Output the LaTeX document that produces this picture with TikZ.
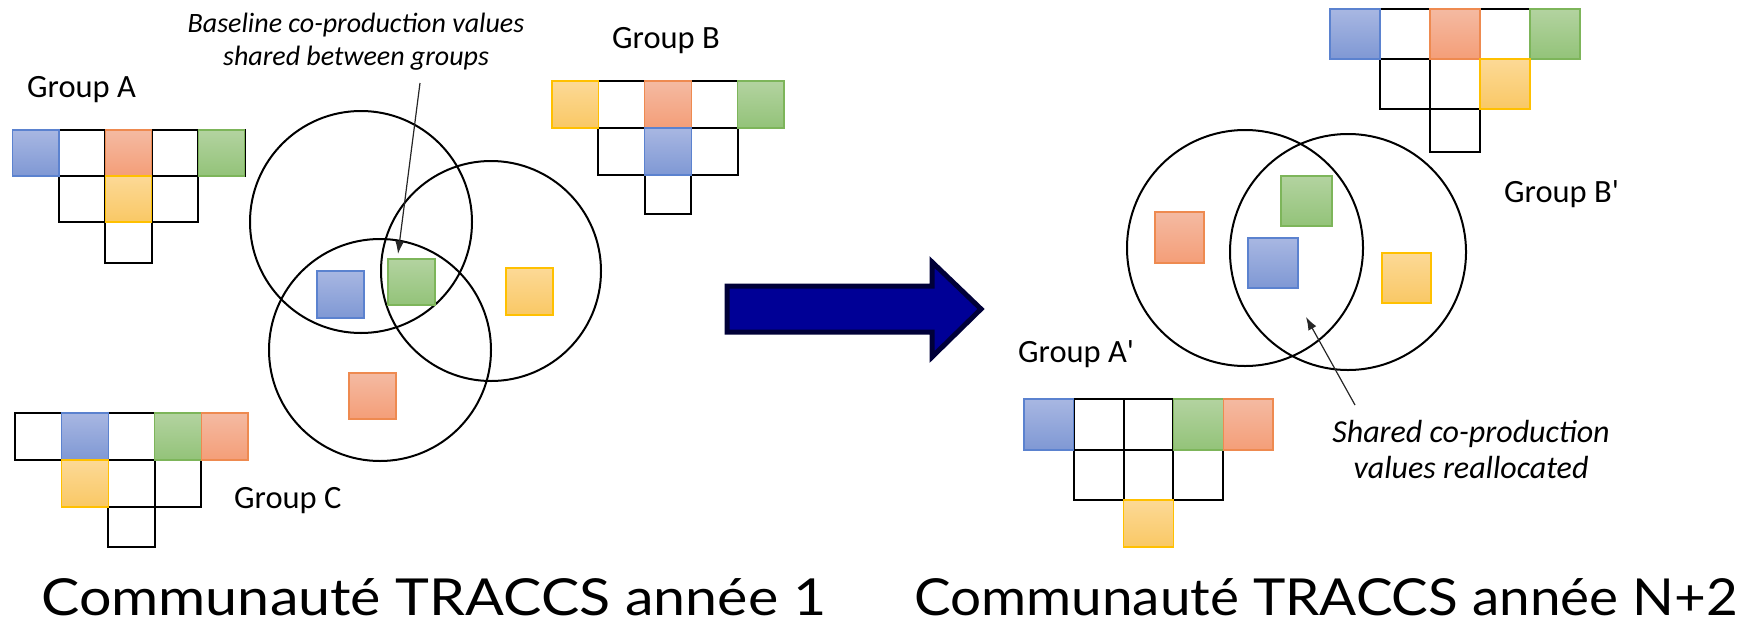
\documentclass[tikz,border=0pt]{standalone}
\usepackage{fontspec}
\setmainfont{Carlito}
\newfontfamily\capfont{Lato}
\usetikzlibrary{arrows.meta}
\definecolor{blueT}{HTML}{A8B7E2}
\definecolor{blueB}{HTML}{7F98D4}
\definecolor{blueE}{HTML}{5B82CF}
\definecolor{orT}{HTML}{F4BAA2}
\definecolor{orB}{HTML}{F49E78}
\definecolor{orE}{HTML}{EE8A50}
\definecolor{yeT}{HTML}{FCD996}
\definecolor{yeB}{HTML}{F9C865}
\definecolor{yeE}{HTML}{FFC000}
\definecolor{grT}{HTML}{B3D3A0}
\definecolor{grB}{HTML}{93C379}
\definecolor{grE}{HTML}{7DB55A}
\definecolor{navy}{HTML}{000096}
\definecolor{navyE}{HTML}{000038}
\tikzset{
  cellw/.style={draw=black, line width=2pt, fill=white},
  sqb/.style={top color=blueT, bottom color=blueB, draw=blueE, line width=1.2pt},
  sqo/.style={top color=orT, bottom color=orB, draw=orE, line width=1.2pt},
  sqy/.style={top color=yeT, bottom color=yeB, draw=yeE, line width=1.2pt},
  sqg/.style={top color=grT, bottom color=grB, draw=grE, line width=1.2pt},
  circ/.style={draw=black, line width=2pt},
  grp/.style={font=\fontsize{32.5}{38}\selectfont, anchor=base west, inner sep=0pt},
  ann/.style={font=\fontsize{28}{34}\selectfont\itshape, anchor=base, inner sep=0pt},
  annr/.style={font=\fontsize{32}{38}\selectfont\itshape, anchor=base, inner sep=0pt},
  capt/.style={font=\capfont\fontsize{51}{60}\selectfont, anchor=base west, inner sep=0pt},
  pointer/.style={line width=1.2pt, draw=black!85, -{Latex[length=13pt,width=9pt]}},
  bigarrow/.style={fill=navy, draw=navyE, line width=5pt, line join=miter},
}
\newcommand\mycell[6]{\draw[#1] ({#2+#3*#4},#5) rectangle ({#2+#3*(#4+1)},#6);}
\begin{document}
\begin{tikzpicture}[x=1pt,y=-1pt]
\useasboundingbox (0,0) rectangle (1744,624);

% ---------- Group A ----------
\foreach \i in {0,...,4} {\mycell{cellw}{12.5}{46.4}{\i}{130}{176}}
\foreach \i in {1,2,3} {\mycell{cellw}{12.5}{46.4}{\i}{176}{222}}
\mycell{cellw}{12.5}{46.4}{2}{222}{263}
\mycell{sqb}{12.5}{46.4}{0}{130}{176}
\mycell{sqo}{12.5}{46.4}{2}{130}{176}
\mycell{sqg}{12.5}{46.4}{4}{130}{176}
\mycell{sqy}{12.5}{46.4}{2}{176}{222}
\node[grp] (gA) at (27,97) {Group A};

% ---------- Group B ----------
\foreach \i in {0,...,4} {\mycell{cellw}{552}{46.4}{\i}{81}{128}}
\foreach \i in {1,2,3} {\mycell{cellw}{552}{46.4}{\i}{128}{175}}
\mycell{cellw}{552}{46.4}{2}{175}{214}
\mycell{sqy}{552}{46.4}{0}{81}{128}
\mycell{sqo}{552}{46.4}{2}{81}{128}
\mycell{sqg}{552}{46.4}{4}{81}{128}
\mycell{sqb}{552}{46.4}{2}{128}{175}
\node[grp] (gB) at (612,48) {Group B};

% ---------- Group C ----------
\foreach \i in {0,...,4} {\mycell{cellw}{15}{46.6}{\i}{413}{460}}
\foreach \i in {1,2,3} {\mycell{cellw}{15}{46.6}{\i}{460}{507}}
\mycell{cellw}{15}{46.6}{2}{507}{547}
\mycell{sqb}{15}{46.6}{1}{413}{460}
\mycell{sqg}{15}{46.6}{3}{413}{460}
\mycell{sqo}{15}{46.6}{4}{413}{460}
\mycell{sqy}{15}{46.6}{1}{460}{507}
\node[grp] (gC) at (234,508) {Group C};

% ---------- Venn, before ----------
\draw[circ] (361,222) circle[radius=111pt];
\draw[circ] (491,271) circle[radius=110pt];
\draw[circ] (380,350) circle[radius=111pt];
\draw[sqb] (317,271) rectangle (364,318);
\draw[sqg] (388,259) rectangle (435,305);
\draw[sqy] (506,268) rectangle (553,315);
\draw[sqo] (349,373) rectangle (396,419);

\node[ann] (annL1) at (356,32) {Baseline co-production values};
\node[ann] (annL2) at (356,65) {shared between groups};
\coordinate (pL0) at (420,83);
\coordinate (pL1) at (398,254);
\draw[pointer] (pL0) -- (pL1);

% ---------- big arrow ----------
\draw[bigarrow] (727,286) -- (932,286) -- (932,262) -- (981,309) -- (932,357) -- (932,332) -- (727,332) -- cycle;

% ---------- Venn, after ----------
\draw[circ] (1245,248) circle[radius=118pt];
\draw[circ] (1348,252) circle[radius=118pt];
\draw[sqo] (1155,212) rectangle (1204,263);
\draw[sqg] (1281,176) rectangle (1332,226);
\draw[sqb] (1248,238) rectangle (1298,288);
\draw[sqy] (1382,253) rectangle (1431,303);

% ---------- Group B' ----------
\foreach \i in {0,...,4} {\mycell{cellw}{1330}{50}{\i}{9}{59}}
\foreach \i in {1,2,3} {\mycell{cellw}{1330}{50}{\i}{59}{109}}
\mycell{cellw}{1330}{50}{2}{109}{152}
\mycell{sqb}{1330}{50}{0}{9}{59}
\mycell{sqo}{1330}{50}{2}{9}{59}
\mycell{sqg}{1330}{50}{4}{9}{59}
\mycell{sqy}{1330}{50}{3}{59}{109}
\node[grp] (gBp) at (1504,202) {Group B\textquotesingle};

% ---------- Group A' ----------
\foreach \i in {0,...,4} {\mycell{cellw}{1024}{49.8}{\i}{399}{450}}
\foreach \i in {1,2,3} {\mycell{cellw}{1024}{49.8}{\i}{450}{500}}
\mycell{sqb}{1024}{49.8}{0}{399}{450}
\mycell{sqg}{1024}{49.8}{3}{399}{450}
\mycell{sqo}{1024}{49.8}{4}{399}{450}
\mycell{sqy}{1024}{49.8}{2}{500}{547}
\node[grp] (gAp) at (1018,362) {Group A\textquotesingle};

\node[annr] (annR1) at (1471,442) {Shared co-production};
\node[annr] (annR2) at (1471,478) {values reallocated};
\coordinate (pR0) at (1355,405);
\coordinate (pR1) at (1306,317);
\draw[pointer] (pR0) -- (pR1);

% ---------- captions ----------
\node[capt] (cap1) at (41,615) {\scalebox{1.125}[1]{Communauté TRACCS année 1}};
\node[capt] (cap2) at (914,615) {\scalebox{1.075}[1]{Communauté TRACCS année N+2}};
\end{tikzpicture}
\end{document}
